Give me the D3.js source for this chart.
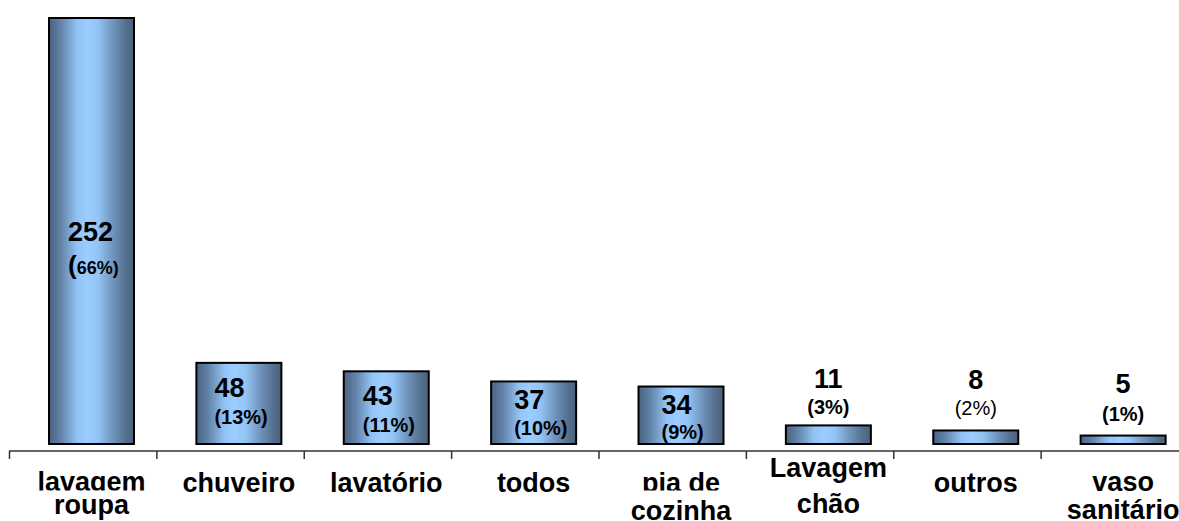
<!DOCTYPE html>
<html><head><meta charset="utf-8">
<script src="https://cdn.jsdelivr.net/npm/d3@7"></script>
<style>
html,body{margin:0;padding:0;background:#fff;}
svg{display:block;font-family:"Liberation Sans",Arial,Helvetica,sans-serif;}
</style></head>
<body>
<svg id="chart" width="1179" height="521"></svg>
<script>
// ---- data ----
const categories = ["lavagem roupa","chuveiro","lavatório","todos","pia de cozinha","Lavagem chão","outros","vaso sanitário"];
const labelLines = [["lavagem","roupa"],["chuveiro"],["lavatório"],["todos"],["pia de","cozinha"],["Lavagem","chão"],["outros"],["vaso","sanitário"]];
const values = [252, 48, 43, 37, 34, 11, 8, 5];
const percents = ["66%","13%","11%","10%","9%","3%","2%","1%"];

// ---- layout (positions/styles, not data) ----
const insideCount = 5;
const numDy = [223, 34, 34, 28, 27, -37, -41, -43];
const pctDy = [256, 61, 61, 54, 52, -11, -15, -15];
const insideDx = [19, 18, 19, 23, 23];
const pctBold = [true,true,true,true,true,true,false,true];
const lineY = [[491,514],[492],[492],[492],[492,520],[477,513],[492],[491,519]];
const clipFirst = [true,false,false,false,true,false,false,false];

const svg = d3.select("#chart");
const W = 1179, H = 521;

const x = d3.scaleBand().domain(categories).range([9, 1188]).paddingInner(0).paddingOuter(0);
const y = d3.scaleLinear().domain([0, 252]).range([444, 18]);
const barOff = 40, barW = 85;

// gradient
const defs = svg.append("defs");
const g = defs.append("linearGradient").attr("id","barGrad").attr("x1","0").attr("x2","1").attr("y1","0").attr("y2","0");
[[0,"#4a6282"],[0.14,"#6283a8"],[0.33,"#92c3f5"],[0.45,"#9bcdff"],[0.58,"#93c4f4"],[0.75,"#7094bd"],[0.9,"#56718f"],[1,"#4a607c"]]
  .forEach(([o,c]) => g.append("stop").attr("offset",o).attr("stop-color",c));
defs.append("clipPath").attr("id","firstLineClip").append("rect").attr("x",0).attr("y",0).attr("width",W).attr("height",490.5);

// bars
svg.append("g").selectAll("rect").data(values).join("rect")
  .attr("x",(d,i)=>x(categories[i])+barOff)
  .attr("y",d=>y(d))
  .attr("width",barW)
  .attr("height",d=>y(0)-y(d))
  .attr("fill","url(#barGrad)")
  .attr("stroke","#000")
  .attr("stroke-width",2);

// axis
const xi = d3.scaleLinear().domain([0, categories.length]).range(x.range());
const axis = svg.append("g").attr("transform","translate(0,451)")
  .call(d3.axisBottom(xi).tickValues(d3.range(categories.length+1)).tickFormat("").tickSize(8).tickSizeOuter(0));
axis.select(".domain").attr("stroke","#333").attr("stroke-width",1.5).attr("d","M9,0H1179");
axis.selectAll(".tick line").attr("stroke","#333").attr("stroke-width",1.5);

// value labels
const lab = svg.append("g");
values.forEach((v,i)=>{
  const top = y(v);
  const bx = x(categories[i])+barOff;
  const inside = i < insideCount;
  const tx = inside ? bx + insideDx[i] : bx + barW/2;
  const anchor = inside ? "start" : "middle";
  lab.append("text").attr("x",tx).attr("y",top+numDy[i]).attr("text-anchor",anchor)
    .attr("font-size",27).attr("font-weight","bold").attr("fill","#000").text(v);
  const t = lab.append("text").attr("x",tx).attr("y",top+pctDy[i]).attr("text-anchor",anchor)
    .attr("font-size",20).attr("font-weight",pctBold[i]?"bold":"normal").attr("fill","#000");
  if(i===0){
    t.append("tspan").attr("font-size",26).text("(");
    t.append("tspan").attr("font-size",18).text(percents[i]+")");
  } else {
    t.text("("+percents[i]+")");
  }
});

// category labels
const cl = svg.append("g");
categories.forEach((c,i)=>{
  const cx = x(c)+barOff+barW/2;
  labelLines[i].forEach((ln,j)=>{
    const t = cl.append("text").attr("x",cx).attr("y",lineY[i][j]).attr("text-anchor","middle")
      .attr("font-size",27).attr("font-weight","bold").attr("fill","#000").text(ln);
    if(j===0 && clipFirst[i]) t.attr("clip-path","url(#firstLineClip)");
  });
});
</script>
</body></html>
